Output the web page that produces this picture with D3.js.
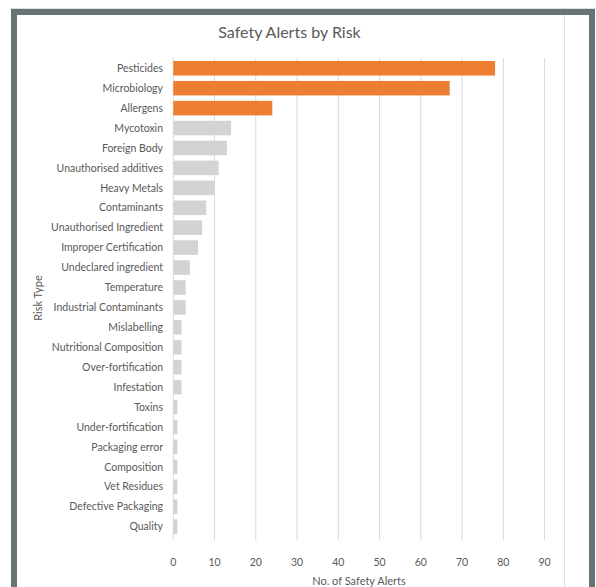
<!DOCTYPE html>
<html>
<head>
	<title>Safety Alerts by Risk</title>
	<script src="https://cdnjs.cloudflare.com/ajax/libs/d3/7.8.5/d3.min.js"></script>
	<style type="text/css">
	html, body{
		margin:0;
		background:#fff;
	}
	svg text{
		font-family: Lato, "Open Sans", sans-serif;
		fill: #595959;
	}
	</style>
</head>
<body>
<div id="chart"></div>
<script type="text/javascript">
// values
var risks = ["Pesticides","Microbiology","Allergens","Mycotoxin","Foreign Body",
	"Unauthorised additives","Heavy Metals","Contaminants","Unauthorised Ingredient",
	"Improper Certification","Undeclared ingredient","Temperature","Industrial Contaminants",
	"Mislabelling","Nutritional Composition","Over-fortification","Infestation","Toxins",
	"Under-fortification","Packaging error","Composition","Vet Residues","Defective Packaging","Quality"];
var alerts = [78,67,24,14,13,11,10,8,7,6,4,3,3,2,2,2,2,1,1,1,1,1,1,1];
var highlighted = ["Pesticides","Microbiology","Allergens"];
var xTicks = [0,10,20,30,40,50,60,70,80,90];

var W = 596, H = 587;

var svg = d3.select("#chart").append("svg")
	.attr("width", W).attr("height", H);

// frame
svg.append("rect").attr("x",0).attr("y",0).attr("width",W).attr("height",H).attr("fill","#fff");
svg.append("line").attr("x1",10).attr("x2",596).attr("y1",8.5).attr("y2",8.5)
	.attr("stroke","#dcdfe0").attr("stroke-width",1);
svg.append("rect").attr("x",14).attr("y",12).attr("width",578).attr("height",H)
	.attr("fill","none").attr("stroke","#687376").attr("stroke-width",6);
svg.append("line").attr("x1",564.5).attr("x2",564.5).attr("y1",15).attr("y2",H)
	.attr("stroke","#dddddd").attr("stroke-width",1);

var x = d3.scaleLinear().domain([0,90]).range([173.3,544.6]);
var y = d3.scaleBand().domain(risks).range([58.3,536.6])
	.paddingInner(0.27).paddingOuter(0.135);

// gridlines
svg.append("g").selectAll("line").data(xTicks).enter().append("line")
	.attr("x1",function(d){ return x(d); })
	.attr("x2",function(d){ return x(d); })
	.attr("y1",58).attr("y2",540)
	.attr("stroke","#d9d9d9").attr("stroke-width",1);

// bars
svg.append("g").selectAll("rect").data(risks).enter().append("rect")
	.attr("x", x(0))
	.attr("y", function(d){ return y(d); })
	.attr("width", function(d,i){ return x(alerts[i]) - x(0); })
	.attr("height", y.bandwidth())
	.attr("fill", function(d){ return highlighted.indexOf(d) >= 0 ? "#ED7D31" : "#D3D3D3"; });

// category labels
svg.append("g").selectAll("text").data(risks).enter().append("text")
	.attr("x", 163)
	.attr("y", function(d){ return y(d) + y.bandwidth()/2; })
	.attr("dy","0.35em")
	.attr("text-anchor","end")
	.attr("font-size","10.5px")
	.text(function(d){ return d; });

// x tick labels
svg.append("g").selectAll("text").data(xTicks).enter().append("text")
	.attr("x", function(d){ return x(d); })
	.attr("y", 566)
	.attr("text-anchor","middle")
	.attr("font-size","10.5px")
	.text(function(d){ return d; });

// titles
svg.append("text").attr("x",289.5).attr("y",38)
	.attr("text-anchor","middle").attr("font-size","16px")
	.text("Safety Alerts by Risk");

svg.append("text").attr("x",359).attr("y",585)
	.attr("text-anchor","middle").attr("font-size","11px")
	.text("No. of Safety Alerts");

svg.append("text")
	.attr("transform","translate(42,298) rotate(-90)")
	.attr("text-anchor","middle").attr("font-size","11px")
	.text("Risk Type");
</script>
</body>
</html>
